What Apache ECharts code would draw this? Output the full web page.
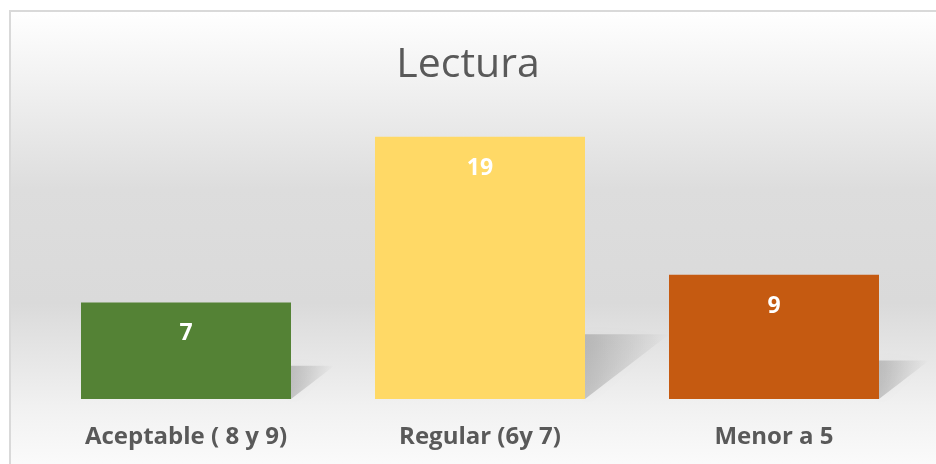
<!DOCTYPE html>
<html>
<head>
<meta charset="utf-8">
<script src="https://cdn.jsdelivr.net/npm/echarts@6/dist/echarts.min.js"></script>
<style>
  html, body { margin: 0; padding: 0; background: #fff; }
  #chart { width: 936px; height: 464px; }
</style>
</head>
<body>
<div id="chart"></div>
<script>
var categories = ["Aceptable ( 8 y 9)", "Regular (6y 7)", "Menor a 5"];
var values = [7, 19, 9];
var barColors = ["#548235", "#FFD966", "#C55A11"];

var chart = echarts.init(document.getElementById("chart"));
var BAR_W = 210;

// sombra diagonal detras de cada barra
function renderShadow(params, api) {
  var top = api.coord([api.value(0), api.value(1)]);
  var base = api.coord([api.value(0), 0]);
  var barH = base[1] - top[1];
  var h = 15 + barH * 0.19;
  var w = h * 1.3;
  var x0 = base[0] + BAR_W / 2;
  return {
    type: "polygon",
    shape: {
      points: [[x0, base[1] - h], [x0 + w, base[1] - h], [x0, base[1]]]
    },
    style: {
      fill: new echarts.graphic.LinearGradient(0, 0, 1, 0, [
        { offset: 0, color: "rgba(0,0,0,0.18)" },
        { offset: 1, color: "rgba(0,0,0,0)" }
      ]),
      shadowBlur: 12,
      shadowColor: "rgba(0,0,0,0.15)"
    }
  };
}

chart.setOption({
  animation: false,
  graphic: [{
    type: "rect",
    z: -10,
    shape: { x: 10, y: 11, width: 940, height: 470 },
    style: {
      stroke: "#d9d9d9",
      lineWidth: 2,
      fill: new echarts.graphic.LinearGradient(0, 0, 0, 1, [
        { offset: 0, color: "#ffffff" },
        { offset: 0.38, color: "#dddddd" },
        { offset: 0.62, color: "#dadada" },
        { offset: 0.84, color: "#f1f1f1" },
        { offset: 1, color: "#fdfdfd" }
      ])
    }
  }],
  title: {
    text: "Lectura",
    left: "center",
    top: 45,
    padding: 0,
    textStyle: {
      fontFamily: "Open Sans",
      fontSize: 41,
      fontWeight: "normal",
      color: "#595959"
    }
  },
  grid: { left: 39, right: 15, top: 123, bottom: 65 },
  xAxis: {
    type: "category",
    data: categories,
    axisLine: { show: false },
    axisTick: { show: false },
    axisLabel: {
      margin: 26,
      fontFamily: "Open Sans",
      fontSize: 24,
      fontWeight: "bold",
      color: "#595959"
    }
  },
  yAxis: {
    type: "value",
    min: 0,
    max: 20,
    show: false,
    splitLine: { show: false }
  },
  series: [
    {
      type: "custom",
      z: 1,
      renderItem: renderShadow,
      data: values.map(function (v, i) { return [i, v]; })
    },
    {
      type: "bar",
      z: 3,
      barWidth: BAR_W,
      data: values.map(function (v, i) {
        return { value: v, itemStyle: { color: barColors[i] } };
      }),
      label: {
        show: true,
        position: "insideTop",
        distance: 20,
        fontFamily: "Open Sans",
        fontSize: 23,
        fontWeight: "bold",
        color: "#ffffff"
      }
    }
  ]
});
</script>
</body>
</html>
